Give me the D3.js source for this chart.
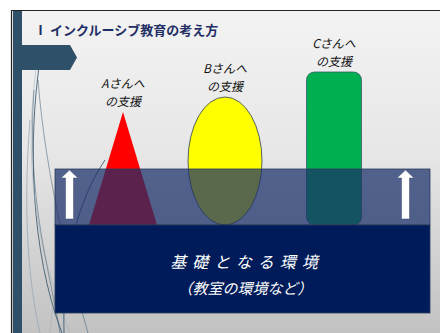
<!DOCTYPE html>
<html>
<head>
<meta charset="utf-8">
<script src="https://cdn.jsdelivr.net/npm/d3@7"></script>
<style>
  body { margin: 0; background: #fff; }
  svg { display: block; }
  text { font-family: "Noto Sans CJK JP", "Noto Sans", sans-serif; }
</style>
</head>
<body>
<svg id="slide" width="440" height="333"></svg>
<script>
	// data
	var title = "Ⅰ インクルーシブ教育の考え方";
	var people = ["A", "B", "C"];
	var shapes = ["triangle", "ellipse", "rect"];
	var supportLevel = [113, 128, 153];   // height of support above the base line
	var supportWidth = [68, 74, 55];
	var shapeColors = ["#ff0000", "#ffff00", "#00b050"];
	var baseLines = ["基礎となる環境", "（教室の環境など）"];

	var svg = d3.select("#slide");
	var defs = svg.append("defs");

	var grad = defs.append("linearGradient").attr("id", "bg")
		.attr("x1", 0).attr("y1", 0).attr("x2", 0).attr("y2", 1);
	grad.append("stop").attr("offset", "0%").attr("stop-color", "#f3f3f3");
	grad.append("stop").attr("offset", "45%").attr("stop-color", "#e6e6e6");
	grad.append("stop").attr("offset", "100%").attr("stop-color", "#c2c2c2");

	// slide background + border
	svg.append("rect").attr("x", 11).attr("y", 10).attr("width", 429).attr("height", 323)
		.attr("fill", "url(#bg)");
	svg.append("path").attr("d", "M11.5,333V10.5H440")
		.attr("fill", "none").attr("stroke", "#222").attr("stroke-width", 1.2);

	// decorative curves on the left
	var curves = [
		"M40,60 C28,140 30,250 62,333",
		"M36,70 C22,170 40,260 70,333",
		"M34,90 C26,200 52,280 60,333",
		"M30,120 C22,220 30,290 40,333",
		"M38,80 C46,180 70,270 88,333",
		"M100,220 C60,240 54,290 50,333",
		"M105,160 C78,200 62,260 64,333"
	];
	svg.selectAll(".curve").data(curves).enter().append("path")
		.attr("class", "curve")
		.attr("d", function (d) { return d; })
		.attr("fill", "none")
		.attr("stroke", function (d, i) { return i % 2 ? "#9aa8b4" : "#2e5068"; })
		.attr("stroke-width", function (d, i) { return i % 3 ? 0.6 : 1; })
		.attr("opacity", 0.8);

	// left bar and pentagon
	svg.append("rect").attr("x", 13).attr("y", 11).attr("width", 9).attr("height", 322).attr("fill", "#2e5068");
	svg.append("path").attr("d", "M22,45H70L77,57.5L70,70H22Z").attr("fill", "#2e5068");

	// title
	svg.append("text").attr("x", 34).attr("y", 35)
		.attr("font-size", 13).attr("font-weight", "bold").attr("fill", "#1f2f66")
		.text(title);

	// scales
	var baseY = 225;
	var x = d3.scaleOrdinal().domain(people).range([123, 225, 334]);
	var y = d3.scaleLinear().domain([0, 160]).range([baseY, baseY - 160]);

	var g = svg.append("g");
	people.forEach(function (p, i) {
		var cx = x(p), w = supportWidth[i], top = y(supportLevel[i]);
		if (shapes[i] === "triangle") {
			g.append("path")
				.attr("d", "M" + cx + "," + top + "L" + (cx + w / 2) + "," + baseY + "L" + (cx - w / 2) + "," + baseY + "Z")
				.attr("fill", shapeColors[i]);
		} else if (shapes[i] === "ellipse") {
			g.append("ellipse").attr("cx", cx).attr("cy", (top + baseY) / 2)
				.attr("rx", w / 2).attr("ry", (baseY - top) / 2)
				.attr("fill", shapeColors[i]).attr("stroke", "#2b3f5a").attr("stroke-width", 0.8);
		} else {
			g.append("rect").attr("x", cx - w / 2).attr("y", top)
				.attr("width", w).attr("height", baseY - top).attr("rx", 8)
				.attr("fill", shapeColors[i]).attr("stroke", "#3a5a6a").attr("stroke-width", 0.8);
		}
		// label, two lines
		svg.append("text").attr("text-anchor", "middle").attr("x", cx).attr("y", top - 24)
			.attr("font-size", 12).attr("font-style", "italic").attr("fill", "#111")
			.text(p + "さんへ");
		svg.append("text").attr("text-anchor", "middle").attr("x", cx).attr("y", top - 6)
			.attr("font-size", 12).attr("font-style", "italic").attr("fill", "#111")
			.text("の支援");
	});

	// translucent band over the shapes
	svg.append("rect").attr("x", 55).attr("y", 169).attr("width", 375).attr("height", 56)
		.attr("fill", "#1a2f6a").attr("fill-opacity", 0.72)
		.attr("stroke", "#2a3c5c").attr("stroke-width", 0.8);

	// base
	svg.append("rect").attr("x", 55).attr("y", 225).attr("width", 375).attr("height", 88)
		.attr("fill", "#001b59").attr("stroke", "#2a3c5c").attr("stroke-width", 0.8);

	// white arrows
	[69.5, 405.5].forEach(function (ax) {
		svg.append("path")
			.attr("d", "M" + ax + ",170L" + (ax + 8.5) + ",178H" + (ax + 4) + "V219H" + (ax - 4) + "V178H" + (ax - 8.5) + "Z")
			.attr("fill", "#fff").attr("stroke", "#3a4a6a").attr("stroke-width", 0.5);
	});

	// base text
	svg.append("text").attr("x", 247).attr("y", 268).attr("text-anchor", "middle")
		.attr("font-size", 16).attr("font-style", "italic").attr("fill", "#fff")
		.attr("letter-spacing", 6)
		.text(baseLines[0]);
	svg.append("text").attr("x", 245).attr("y", 294).attr("text-anchor", "middle")
		.attr("font-size", 15).attr("font-style", "italic").attr("fill", "#fff")
		.text(baseLines[1]);
</script>
</body>
</html>
